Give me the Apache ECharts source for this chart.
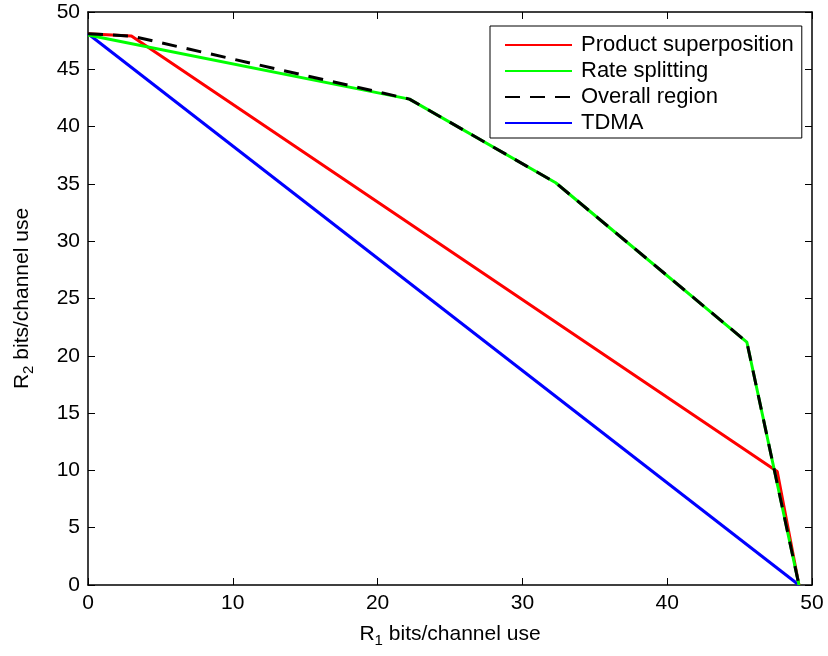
<!DOCTYPE html>
<html>
<head>
<meta charset="utf-8">
<script src="https://cdn.jsdelivr.net/npm/echarts@6/dist/echarts.min.js"></script>
<style>
  html, body { margin: 0; padding: 0; background: #fff; }
  #chart { width: 828px; height: 656px; }
</style>
</head>
<body>
<div id="chart"></div>
<script>
// [R1, R2] corner points of each rate region
const productSuperposition = [[0, 48.1], [3.0, 47.9], [47.6, 9.9], [49.1, 0]]
const rateSplitting = [[0, 48.0], [22.2, 42.4], [32.3, 35.1], [45.5, 21.2], [49.1, 0]]
const overallRegion = [[0, 48.1], [3.0, 47.9], [22.2, 42.4], [32.3, 35.1], [45.5, 21.2], [49.1, 0]]
const tdma = [[0, 48.1], [49.1, 0]]

const xTicks = [0, 10, 20, 30, 40, 50]
const yTicks = [0, 5, 10, 15, 20, 25, 30, 35, 40, 45, 50]

const font = "Liberation Sans, Arial, sans-serif"
const chart = echarts.init(document.getElementById("chart"), null, { renderer: "canvas" })

const axisBase = {
  type: "value",
  axisLine: { show: true, onZero: false, lineStyle: { color: "#000", width: 1.5 } },
  axisTick: { show: true, inside: true, length: 7, lineStyle: { color: "#000", width: 1 } },
  splitLine: { show: false }
}

const subRich = {
  sub: { fontSize: 15, fontFamily: font, color: "#000", verticalAlign: "bottom", padding: [12, 0, 0, 0] }
}

function lineSeries(name, data, color, dashed) {
  return {
    name,
    type: "line",
    data,
    symbol: "none",
    animation: false,
    lineStyle: { color, width: 3, type: dashed ? [15, 10] : "solid" },
    itemStyle: { color },
    xAxisIndex: 0,
    yAxisIndex: 0
  }
}

chart.setOption({
  animation: false,
  grid: { left: 88, right: 16, top: 12, bottom: 71, containLabel: false, outerBoundsMode: "none" },
  legend: {
    orient: "vertical",
    left: 490,
    top: 26,
    padding: [8, 8, 4, 14],
    itemWidth: 67,
    itemHeight: 14,
    itemGap: 4,
    backgroundColor: "#fff",
    borderColor: "#000",
    borderWidth: 1,
    borderRadius: 0,
    itemStyle: { opacity: 0 },
    textStyle: { fontFamily: font, fontSize: 22, color: "#000", padding: [0, 0, 0, 4] },
    data: ["Product superposition", "Rate splitting", "Overall region", "TDMA"]
  },
  xAxis: [
    {
      ...axisBase,
      position: "bottom",
      min: 0, max: 50, interval: 10,
      axisLabel: { color: "#000", fontFamily: font, fontSize: 21, margin: 8,
        formatter: (v) => xTicks.includes(v) ? String(v) : "" },
      name: "R{sub|1} bits/channel use",
      nameLocation: "middle",
      nameGap: 36,
      nameTextStyle: { color: "#000", fontFamily: font, fontSize: 21, rich: subRich }
    },
    { ...axisBase, position: "top", min: 0, max: 50, interval: 10, axisLabel: { show: false } }
  ],
  yAxis: [
    {
      ...axisBase,
      position: "left",
      min: 0, max: 50, interval: 5,
      axisLabel: { color: "#000", fontFamily: font, fontSize: 21, margin: 8,
        formatter: (v) => yTicks.includes(v) ? String(v) : "" },
      name: "R{sub|2} bits/channel use",
      nameLocation: "middle",
      nameGap: 52,
      nameTextStyle: { color: "#000", fontFamily: font, fontSize: 21, rich: subRich }
    },
    { ...axisBase, position: "right", min: 0, max: 50, interval: 5, axisLabel: { show: false } }
  ],
  series: [
    lineSeries("TDMA", tdma, "#0000ff", false),
    lineSeries("Product superposition", productSuperposition, "#ff0000", false),
    lineSeries("Rate splitting", rateSplitting, "#00ff00", false),
    lineSeries("Overall region", overallRegion, "#000000", true)
  ]
})
</script>
</body>
</html>
